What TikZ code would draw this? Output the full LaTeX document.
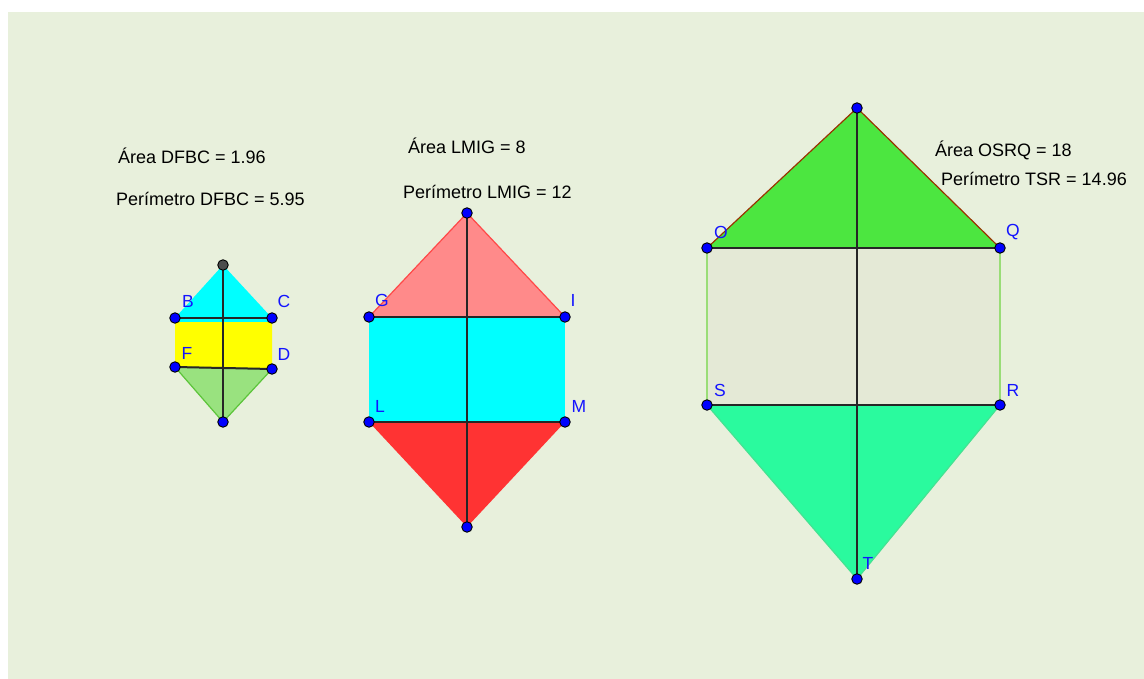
\documentclass[tikz,border=0pt]{standalone}
\usepackage{fontspec}
\setmainfont{Liberation Sans}
\usetikzlibrary{positioning}
\definecolor{bgpane}{RGB}{232,240,220}
\definecolor{ptblue}{RGB}{0,0,255}
\definecolor{lblblue}{RGB}{20,20,255}
\definecolor{aqua}{RGB}{0,255,255}
\definecolor{yell}{RGB}{255,255,0}
\definecolor{smgreen}{RGB}{153,226,127}
\definecolor{smgreenedge}{RGB}{92,196,58}
\definecolor{pinkfill}{RGB}{255,138,138}
\definecolor{pinkedge}{RGB}{255,72,72}
\definecolor{redfill}{RGB}{255,51,51}
\definecolor{topgreen}{RGB}{76,230,64}
\definecolor{brownedge}{RGB}{153,51,0}
\definecolor{rectfill}{RGB}{228,233,214}
\definecolor{sidegreen}{RGB}{153,221,119}
\definecolor{mintfill}{RGB}{42,250,158}
\definecolor{mintedge}{RGB}{68,226,146}
\tikzset{
  % --- Puntos y etiquetas ------------------------------------
  pt/.style={circle, draw=black, fill=ptblue, line width=0.9pt,
    inner sep=0pt, minimum size=10.5pt},
  ptgray/.style={pt, fill=black!70},
  ptlbl/.style={text=lblblue, font=\fontsize{17.5}{19}\selectfont,
    inner sep=0pt},
  % --- Segmentos ---------------------------------------------
  seg/.style={draw=black!85, line width=2pt},
  edge/.style={line width=1.2pt},
  % --- Textos de medida --------------------------------------
  meas/.style={anchor=base west, inner sep=0pt,
    font=\fontsize{18}{20}\selectfont}
}

\begin{document}
\begin{tikzpicture}[x=1pt, y=-1pt]

  \useasboundingbox (0,0) rectangle (1144,679);
  \fill[bgpane] (8,12) rectangle (1144,679);

  % --- Vertices ---
  \coordinate (A) at (223,265);
  \coordinate (B) at (175,318);
  \coordinate (C) at (272,318);
  \coordinate (F) at (175,367);
  \coordinate (D) at (272,369);
  \coordinate (E) at (223,422);

  \coordinate (H) at (467,213);
  \coordinate (G) at (369,317);
  \coordinate (I) at (565,317);
  \coordinate (L) at (369,422);
  \coordinate (M) at (565,422);
  \coordinate (K) at (467,527);

  \coordinate (P) at (857,108);
  \coordinate (O) at (707,248);
  \coordinate (Q) at (1000,248);
  \coordinate (S) at (707,405);
  \coordinate (R) at (1000,405);
  \coordinate (T) at (857,579);

  % --- Figura pequena ---
  \fill[aqua] (A) -- (C) -- ([yshift=-4pt]C) -- ([yshift=-4pt]B) -- (B) -- cycle;
  \fill[yell] ([yshift=-4pt]B) -- ([yshift=-4pt]C) -- (D) -- (F) -- cycle;
  \filldraw[fill=smgreen, draw=smgreenedge, edge] (F) -- (D) -- (E) -- cycle;

  % --- Figura mediana ---
  \filldraw[fill=pinkfill, draw=pinkedge, edge] (G) -- (H) -- (I) -- cycle;
  \fill[aqua] (G) rectangle (M);
  \fill[redfill] (L) -- (M) -- (K) -- cycle;

  % --- Figura grande ---
  \filldraw[fill=topgreen, draw=brownedge, edge] (O) -- (P) -- (Q) -- cycle;
  \fill[rectfill] (O) rectangle (R);
  \draw[sidegreen, edge] (O) -- (S) (Q) -- (R);
  \filldraw[fill=mintfill, draw=mintedge, edge] (S) -- (R) -- (T) -- cycle;

  % --- Segmentos negros ---
  \draw[seg] (A) -- (E);
  \draw[seg] (B) -- (C);
  \draw[seg] (F) -- (D);
  \draw[seg] (H) -- (K);
  \draw[seg] (G) -- (I);
  \draw[seg] (L) -- (M);
  \draw[seg] (P) -- (T);
  \draw[seg] (O) -- (Q);
  \draw[seg] (S) -- (R);

  % --- Puntos ---
  \node[ptgray] (pA) at (A) {};
  \foreach \v in {B,C,F,D,E,H,G,I,L,M,K,P,O,Q,S,R,T}
    \node[pt] (p\v) at (\v) {};

  % --- Etiquetas ---
  \node[ptlbl] (lB) at (188,301) {B};
  \node[ptlbl] (lC) at (284,301) {C};
  \node[ptlbl] (lF) at (187,353) {F};
  \node[ptlbl] (lD) at (284,354) {D};
  \node[ptlbl] (lG) at (382,300) {G};
  \node[ptlbl] (lI) at (573,300) {I};
  \node[ptlbl] (lL) at (380,406) {L};
  \node[ptlbl] (lM) at (579,406) {M};
  \node[ptlbl] (lO) at (721,232) {O};
  \node[ptlbl] (lQ) at (1013,232) {Q};
  \node[ptlbl] (lS) at (720,390) {S};
  \node[ptlbl] (lR) at (1013,390) {R};
  \node[ptlbl] (lT) at (868,563) {T};

  % --- Area y perimetro ---
  \node[meas] (areaS)  at (118,164) {Área DFBC = 1.96};
  \node[meas] (perimS) at (116,206) {Perímetro DFBC = 5.95};
  \node[meas] (areaM)  at (408,154) {Área LMIG = 8};
  \node[meas] (perimM) at (403,199) {Perímetro LMIG = 12};
  \node[meas] (areaL)  at (935,157) {Área OSRQ = 18};
  \node[meas] (perimL) at (941,186) {Perímetro TSR = 14.96};

\end{tikzpicture}
\end{document}
